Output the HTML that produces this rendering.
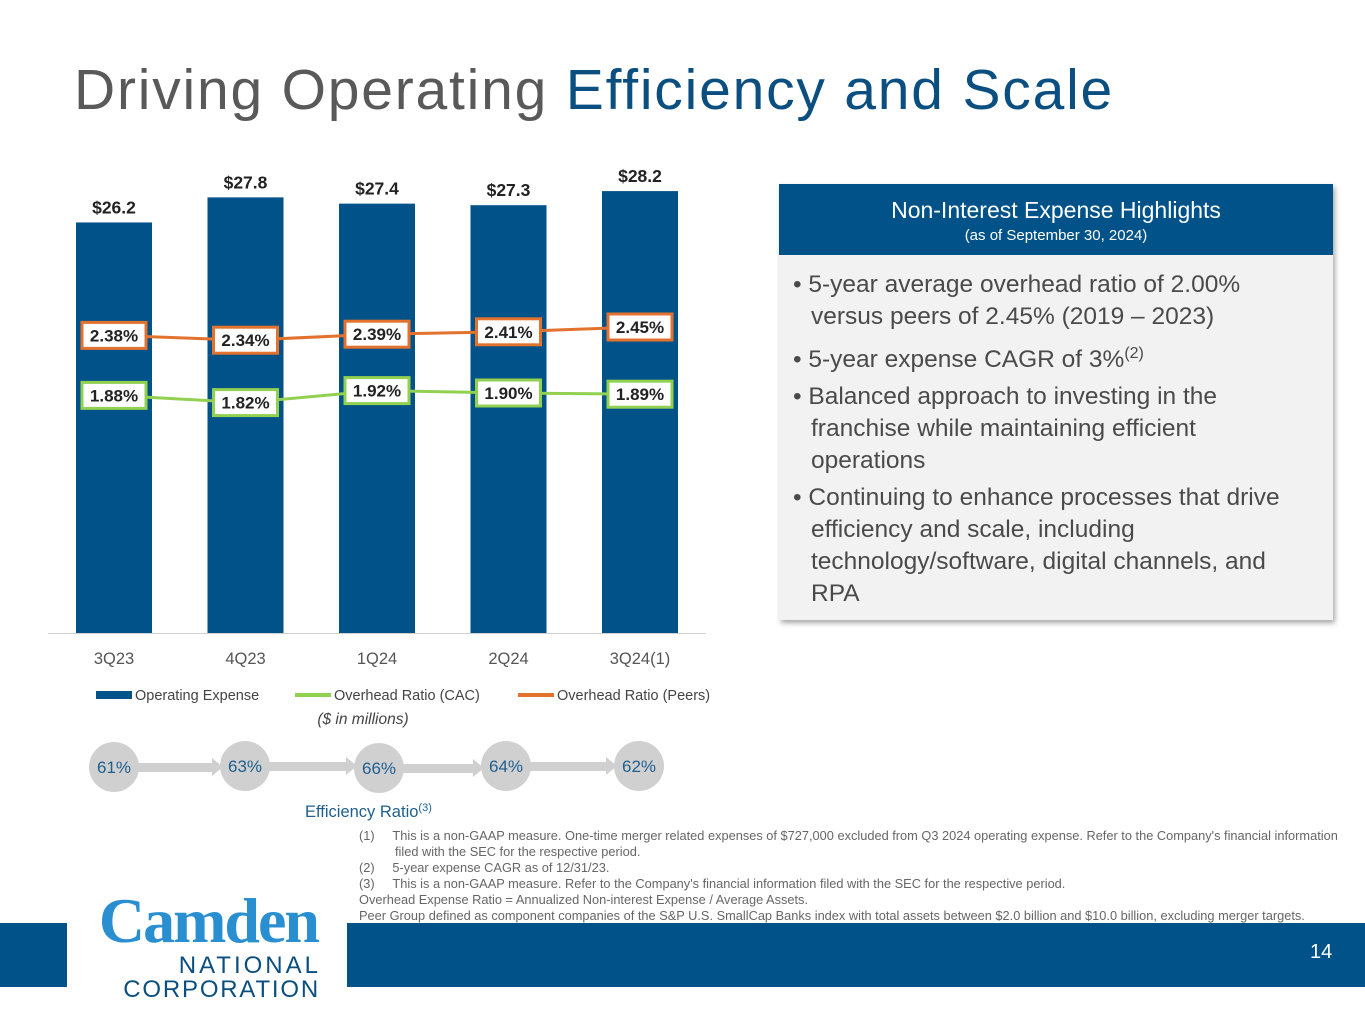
<!DOCTYPE html>
<html><head><meta charset="utf-8"><style>
body{margin:0;width:1365px;height:1024px;position:relative;overflow:hidden;background:#fff;font-family:"Liberation Sans",sans-serif}
.abs{position:absolute}
</style></head><body>
<div class="abs" style="left:74px;top:57px;font-size:57px;color:#595959;white-space:nowrap;letter-spacing:1.8px">Driving Operating <span style="color:#0b4f80">Efficiency and Scale</span></div>

<svg class="abs" style="left:0;top:0" width="760" height="840" id="chart"></svg>

<div class="abs" style="left:779px;top:184px;width:554px;height:436px;background:#f2f2f2;box-shadow:2px 3px 5px rgba(0,0,0,0.35)">
 <div style="height:71px;background:#005288;color:#fff;text-align:center">
  <div style="font-size:23px;padding-top:13px">Non-Interest Expense Highlights</div>
  <div style="font-size:15px;margin-top:3px">(as of September 30, 2024)</div>
 </div>
 <div style="padding:14px 20px 0 14px;width:505px;font-size:24.5px;line-height:32px;color:#4a4a4a">
  <div style="padding-left:18px;text-indent:-18px;margin-bottom:5px">• 5-year average overhead ratio of 2.00% versus peers of 2.45% (2019 – 2023)</div>
  <div style="padding-left:18px;text-indent:-18px;margin-bottom:5px">• 5-year expense CAGR of 3%<sup style="font-size:16px">(2)</sup></div>
  <div style="padding-left:18px;text-indent:-18px;margin-bottom:5px">• Balanced approach to investing in the franchise while maintaining efficient operations</div>
  <div style="padding-left:18px;text-indent:-18px">• Continuing to enhance processes that drive efficiency and scale, including technology/software, digital channels, and RPA</div>
 </div>
</div>

<div class="abs" style="left:359px;top:828px;width:1006px;font-size:12.8px;line-height:16px;color:#666;white-space:nowrap">
<div>(1)&nbsp;&nbsp;&nbsp;&nbsp;&nbsp;This is a non-GAAP measure. One-time merger related expenses of $727,000 excluded from Q3 2024 operating expense. Refer to the Company's financial information</div>
<div style="padding-left:36px">filed with the SEC for the respective period.</div>
<div>(2)&nbsp;&nbsp;&nbsp;&nbsp;&nbsp;5-year expense CAGR as of 12/31/23.</div>
<div>(3)&nbsp;&nbsp;&nbsp;&nbsp;&nbsp;This is a non-GAAP measure. Refer to the Company's financial information filed with the SEC for the respective period.</div>
<div>Overhead Expense Ratio = Annualized Non-interest Expense / Average Assets.</div>
<div>Peer Group defined as component companies of the S&amp;P U.S. SmallCap Banks index with total assets between $2.0 billion and $10.0 billion, excluding merger targets.</div>
</div>

<div class="abs" style="left:0;top:923px;width:67px;height:64px;background:#005288"></div>
<div class="abs" style="left:347px;top:923px;width:1018px;height:64px;background:#005288"></div>
<div class="abs" style="left:1310px;top:941px;font-size:20px;color:#fff">14</div>
<div class="abs" style="left:80px;top:888px;width:238px;text-align:right">
 <div style="font-family:'Liberation Serif',serif;font-weight:bold;font-size:64px;color:#2a8fd0;line-height:66px;letter-spacing:-2px">Camden</div>
 <div style="font-size:24px;color:#0b4f80;line-height:24px;letter-spacing:3px;margin-right:-3px">NATIONAL</div>
 <div style="font-size:24px;color:#0b4f80;line-height:24px;letter-spacing:1.8px;margin-right:-2px">CORPORATION</div>
</div>

<script>
const categories=['3Q23','4Q23','1Q24','2Q24','3Q24(1)'];
const opex=[26.2,27.8,27.4,27.3,28.2];
const cac=[1.88,1.82,1.92,1.90,1.89];
const peers=[2.38,2.34,2.39,2.41,2.45];
const efficiency=[61,63,66,64,62];

const NS='http://www.w3.org/2000/svg';
const svg=document.getElementById('chart');
function mk(t,a,p){const e=document.createElementNS(NS,t);for(const k in a)e.setAttribute(k,a[k]);(p||svg).appendChild(e);return e;}
const xC=i=>114+i*131.5;
const yB=v=>633-v*15.67;
const yL=v=>621-v*120;
const barW=76;

mk('line',{x1:48,x2:706,y1:633.5,y2:633.5,stroke:'#d0d0d0','stroke-width':1});
opex.forEach((v,i)=>{
  const r=mk('rect',{x:xC(i)-barW/2,y:yB(v),width:barW,height:633-yB(v),fill:'#005288'});
  
  
  const t=mk('text',{x:xC(i),y:yB(v)-9,'text-anchor':'middle','font-size':17.5,'font-weight':'bold',fill:'#222'});
  t.textContent='$'+v.toFixed(1);
  
  
  const c=mk('text',{x:xC(i),y:664,'text-anchor':'middle','font-size':16.5,fill:'#555'});
  c.textContent=categories[i];
  
  
});
function series(vals,color,name){
  const pts=vals.map((v,i)=>xC(i)+','+yL(v)).join(' ');
  const pl=mk('polyline',{points:pts,fill:'none',stroke:color,'stroke-width':3});
  
  
  vals.forEach((v,i)=>{
    const g=mk('g',{});
    
    
    mk('rect',{x:xC(i)-32,y:yL(v)-13,width:64,height:26,fill:'#fff',stroke:color,'stroke-width':3},g);
    const t=mk('text',{x:xC(i),y:yL(v)+6,'text-anchor':'middle','font-size':17,'font-weight':'bold',fill:'#222'},g);
    t.textContent=v.toFixed(2)+'%';
  });
}
series(peers,'#e4722f','peers-ratio');
series(cac,'#92d050','cac-ratio');

const leg=[['Operating Expense','#005288',96,8],['Overhead Ratio (CAC)','#92d050',295,4],['Overhead Ratio (Peers)','#e4722f',518,4]];
leg.forEach(l=>{
  const g=mk('g',{});
  
  
  mk('rect',{x:l[2],y:695-l[3]/2,width:36,height:l[3],fill:l[1]},g);
  const t=mk('text',{x:l[2]+39,y:700,'font-size':14.5,fill:'#444'},g);
  t.textContent=l[0];
});
const u=mk('text',{x:363,y:724,'text-anchor':'middle','font-size':15.5,'font-style':'italic',fill:'#444'});
u.textContent='($ in millions)';



const ex=[114,245,379,506,639], ey=[767,766,768,766,766];
efficiency.forEach((v,i)=>{
  if(i<efficiency.length-1){
    const a=mk('g',{});
    
    
    mk('rect',{x:ex[i]+20,y:ey[i]-4,width:ex[i+1]-ex[i]-52,height:9,fill:'#d0d0d0'},a);
    mk('polygon',{points:`${ex[i+1]-33},${ey[i]-9} ${ex[i+1]-22},${ey[i]} ${ex[i+1]-33},${ey[i]+9}`,fill:'#d0d0d0'},a);
  }
});
efficiency.forEach((v,i)=>{
  const g=mk('g',{});
  
  
  mk('ellipse',{cx:ex[i],cy:ey[i],rx:25,ry:25,fill:'#d0d0d0'},g);
  const t=mk('text',{x:ex[i],y:ey[i]+6,'text-anchor':'middle','font-size':17,fill:'#1f5f8f'},g);
  t.textContent=v+'%';
});
const et=mk('text',{x:305,y:817,'font-size':16.5,fill:'#1f5f8f'});
et.innerHTML='Efficiency Ratio<tspan dy="-6" font-size="11">(3)</tspan>';


</script>
</body></html>
